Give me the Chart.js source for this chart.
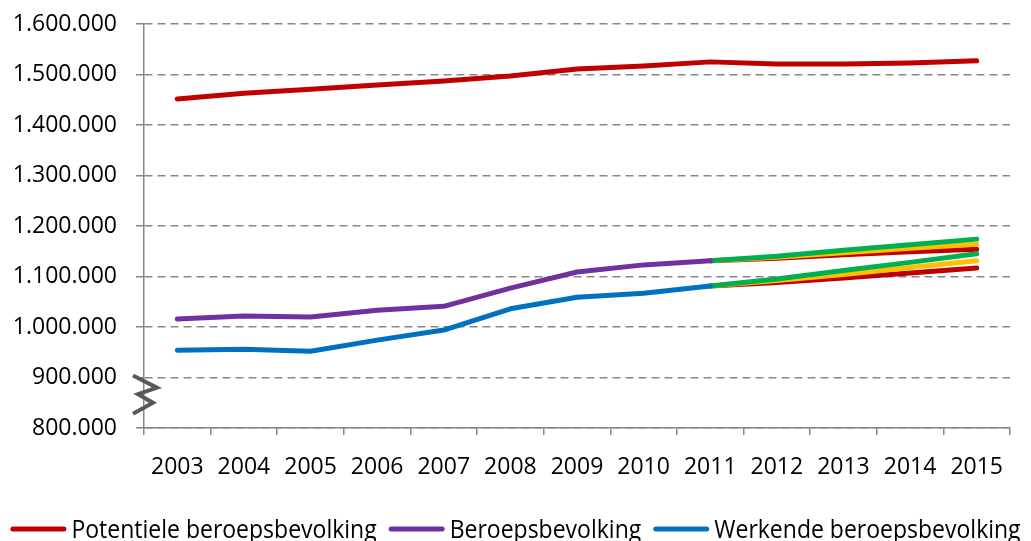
<!DOCTYPE html>
<html>
<head>
<meta charset="utf-8">
<script src="https://cdn.jsdelivr.net/npm/chart.js@4"></script>
<style>
  html, body { margin: 0; padding: 0; overflow: hidden; background: #fff; }
  #wrap { width: 1031px; height: 541px; position: relative; }
</style>
</head>
<body>
<div id="wrap"><canvas id="chart"></canvas></div>
<script>
// data
const years = ['2003', '2004', '2005', '2006', '2007', '2008', '2009', '2010', '2011', '2012', '2013', '2014', '2015'];
const potentiele = [1451500, 1463000, 1471000, 1479000, 1487000, 1497000, 1511000, 1517000, 1525000, 1521000, 1521000, 1523000, 1527000];
const beroeps = [1015800, 1022000, 1020000, 1033000, 1041000, 1077000, 1109000, 1123000, 1131000, null, null, null, null];
const werkende = [954000, 956000, 952000, 974000, 994000, 1036000, 1059000, 1067000, 1081000, null, null, null, null];
// scenario projections from 2011 onwards
const beroepsLaag = [null, null, null, null, null, null, null, null, 1131000, 1136000, 1143000, 1149000, 1154000];
const beroepsMidden = [null, null, null, null, null, null, null, null, 1131000, 1138000, 1147000, 1156000, 1164000];
const beroepsHoog = [null, null, null, null, null, null, null, null, 1131000, 1140000, 1152000, 1163000, 1174000];
const werkendeLaag = [null, null, null, null, null, null, null, null, 1081000, 1088000, 1097000, 1107000, 1117000];
const werkendeMidden = [null, null, null, null, null, null, null, null, 1081000, 1092000, 1104000, 1118000, 1131000];
const werkendeHoog = [null, null, null, null, null, null, null, null, 1081000, 1095000, 1112000, 1128000, 1145000];
const yTicks = [800000, 900000, 1000000, 1100000, 1200000, 1300000, 1400000, 1500000, 1600000];

const RED = '#C00000', PURPLE = '#7030A0', BLUE = '#0070C0', YELLOW = '#FFC000', GREEN = '#00B050';
const GRID = '#878787';
const FONT = "'Open Sans', sans-serif";

function fmt(v) {
  return String(v).replace(/\B(?=(\d{3})+(?!\d))/g, '.');
}

function line(label, data, color, order) {
  return {
    label: label,
    data: data,
    borderColor: color,
    backgroundColor: color,
    borderWidth: 5,
    pointRadius: 0,
    tension: 0,
    borderCapStyle: 'round',
    borderJoinStyle: 'round',
    spanGaps: false,
    order: order
  };
}

// zigzag break marker on the y axis
const breakMark = {
  id: 'breakMark',
  afterDraw(chart) {
    const y = chart.scales.y;
    const c = chart.ctx;
    const x0 = y.right;
    const top = y.getPixelForValue(900000);
    const bot = y.getPixelForValue(800000);
    const h = bot - top;
    c.save();
    c.strokeStyle = '#595959';
    c.lineWidth = 4;
    c.lineJoin = 'miter';
    c.beginPath();
    c.moveTo(x0 - 11, top - 2);
    c.lineTo(x0 + 13, top + h * 0.2);
    c.lineTo(x0 - 6, top + h * 0.33);
    c.lineTo(x0 + 9, top + h * 0.5);
    c.lineTo(x0 - 11, top + h * 0.72);
    c.stroke();
    c.restore();
  }
};

// legend drawn by hand, only the three main series, cut off at the bottom like the original
const bottomLegend = {
  id: 'bottomLegend',
  afterDraw(chart) {
    const c = chart.ctx;
    const items = chart.data.datasets.slice(0, 3);
    const lineW = 56, gapText = 5, gapItem = 12;
    c.save();
    c.font = "23px 'Open Sans', sans-serif";
    const widths = items.map(d => lineW + gapText + c.measureText(d.label).width);
    const total = widths.reduce((a, b) => a + b, 0) + gapItem * (items.length - 1);
    let x = (chart.width - total) / 2;
    const yLine = chart.height - 12;
    const yText = chart.height - 3;
    items.forEach((d, i) => {
      c.strokeStyle = d.borderColor;
      c.lineWidth = 5;
      c.lineCap = 'round';
      c.beginPath();
      c.moveTo(x + 2.5, yLine);
      c.lineTo(x + lineW - 2.5, yLine);
      c.stroke();
      c.save();
      c.translate(x + lineW + gapText, yText);
      c.scale(1, 1.1);
      c.fillStyle = '#000';
      c.textBaseline = 'alphabetic';
      c.textAlign = 'left';
      c.fillText(d.label, 0, 0);
      c.restore();
      x += widths[i] + gapItem;
    });
    c.restore();
  }
};

new Chart(document.getElementById('chart'), {
  type: 'line',
  data: {
    labels: years,
    datasets: [
      line('Potentiele beroepsbevolking', potentiele, RED, 1),
      line('Beroepsbevolking', beroeps, PURPLE, 2),
      line('Werkende beroepsbevolking', werkende, BLUE, 3),
      line('Beroeps laag', beroepsLaag, RED, 8),
      line('Beroeps midden', beroepsMidden, YELLOW, 6),
      line('Beroeps hoog', beroepsHoog, GREEN, 4),
      line('Werkende laag', werkendeLaag, RED, 9),
      line('Werkende midden', werkendeMidden, YELLOW, 7),
      line('Werkende hoog', werkendeHoog, GREEN, 5)
    ]
  },
  options: {
    responsive: true,
    maintainAspectRatio: false,
    animation: false,
    layout: { padding: { top: 24, right: 21, left: 0, bottom: 0 } },
    plugins: {
      tooltip: { enabled: false },
      legend: { display: false }
    },
    scales: {
      x: {
        offset: true,
        grid: { display: true, drawOnChartArea: false, drawTicks: true, tickLength: 7, offset: true, color: GRID, lineWidth: 1.5 },
        border: { display: true, color: GRID, width: 1.5 },
        ticks: { font: { family: FONT, size: 23 }, color: '#000', padding: 19, maxRotation: 0, autoSkip: false },
        afterFit(scale) { scale.height = 113; }
      },
      y: {
        min: 800000,
        max: 1600000,
        afterBuildTicks(scale) { scale.ticks = yTicks.map(v => ({ value: v })); },
        grid: { color: GRID, lineWidth: 1.5, tickLength: 8 },
        border: { display: true, color: GRID, width: 1.5, dash: [8, 5] },
        ticks: { font: { family: FONT, size: 23 }, color: '#000', padding: 19, callback: v => fmt(v) },
        afterFit(scale) { scale.width = 144; scale.paddingTop = 0; scale.paddingBottom = 0; }
      }
    }
  },
  plugins: [breakMark, bottomLegend]
});
</script>
</body>
</html>
